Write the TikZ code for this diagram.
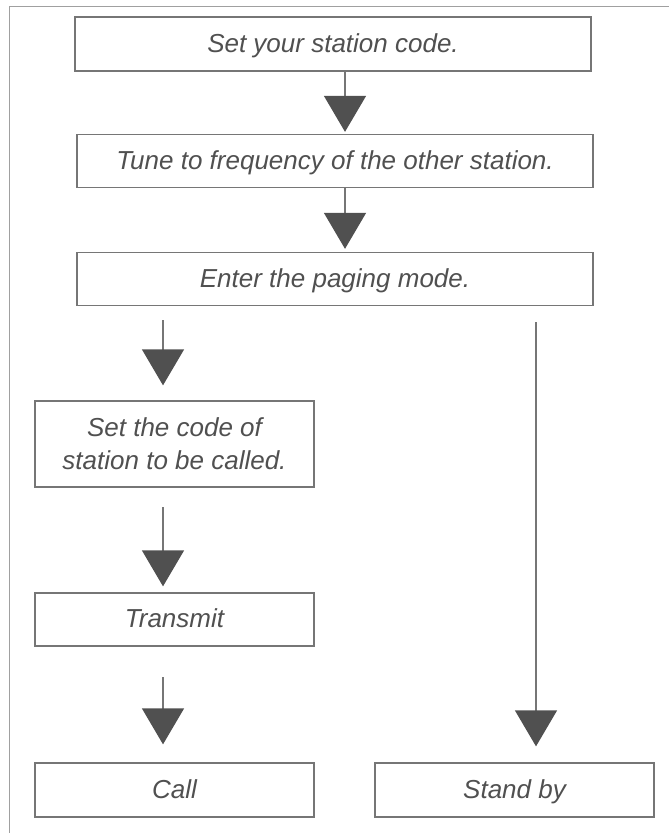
\documentclass[tikz,border=0pt]{standalone}
\usepackage{fontspec}
\setmainfont{Liberation Sans}
\usetikzlibrary{arrows.meta}
\definecolor{ink}{HTML}{505050}
\definecolor{edge}{HTML}{767676}
\definecolor{pageline}{HTML}{A0A0A0}
\begin{document}
\begin{tikzpicture}[x=1pt,y=-1pt,
  box/.style={draw=edge, line width=1.3pt, text=ink,
    font=\fontsize{26}{33}\selectfont\itshape, align=center,
    inner sep=0pt, minimum height=53pt},
  oneline/.style={box, text height=19pt, text depth=3pt},
  flow/.style={draw=edge, line width=1.3pt,
    -{Triangle[width=42pt,length=36pt,color=ink]}}]
\useasboundingbox (0,0) rectangle (669,833);
\draw[pageline, line width=0.9pt] (669,6) -- (9,6) -- (9,833);

\node[oneline, minimum width=516pt, minimum height=54pt] (b1) at (333,44) {Set your station code.};
\node[oneline, minimum width=516pt] (b2) at (335,161) {Tune to frequency of the other station.};
\node[oneline, minimum width=516pt] (b3) at (335,279) {Enter the paging mode.};
\node[box, minimum width=279pt, minimum height=86pt] (b4) at (174.5,444) {Set the code of\\station to be called.};
\node[oneline, minimum width=279pt] (b5) at (174.5,619.5) {Transmit};
\node[oneline, minimum width=279pt, minimum height=54pt] (call) at (174.5,790) {Call};
\node[oneline, minimum width=279pt, minimum height=54pt] (stand) at (514.5,790) {Stand by};

\coordinate (c1) at (345,0);
\coordinate (s3) at (163,320);
\coordinate (s4) at (163,507);
\coordinate (s5) at (163,677);
\coordinate (s6) at (536,322);

\draw[flow, shorten >=2pt] (b1.south -| c1) -- (b2.north -| c1);
\draw[flow, shorten >=3pt] (b2.south -| c1) -- (b3.north -| c1);
\draw[flow, shorten >=15pt] (s3) -- (b4.north -| s3);
\draw[flow, shorten >=6pt] (s4) -- (b5.north -| s4);
\draw[flow, shorten >=18pt] (s5) -- (call.north -| s5);
\draw[flow, shorten >=16pt] (s6) -- (stand.north -| s6);
\end{tikzpicture}
\end{document}
